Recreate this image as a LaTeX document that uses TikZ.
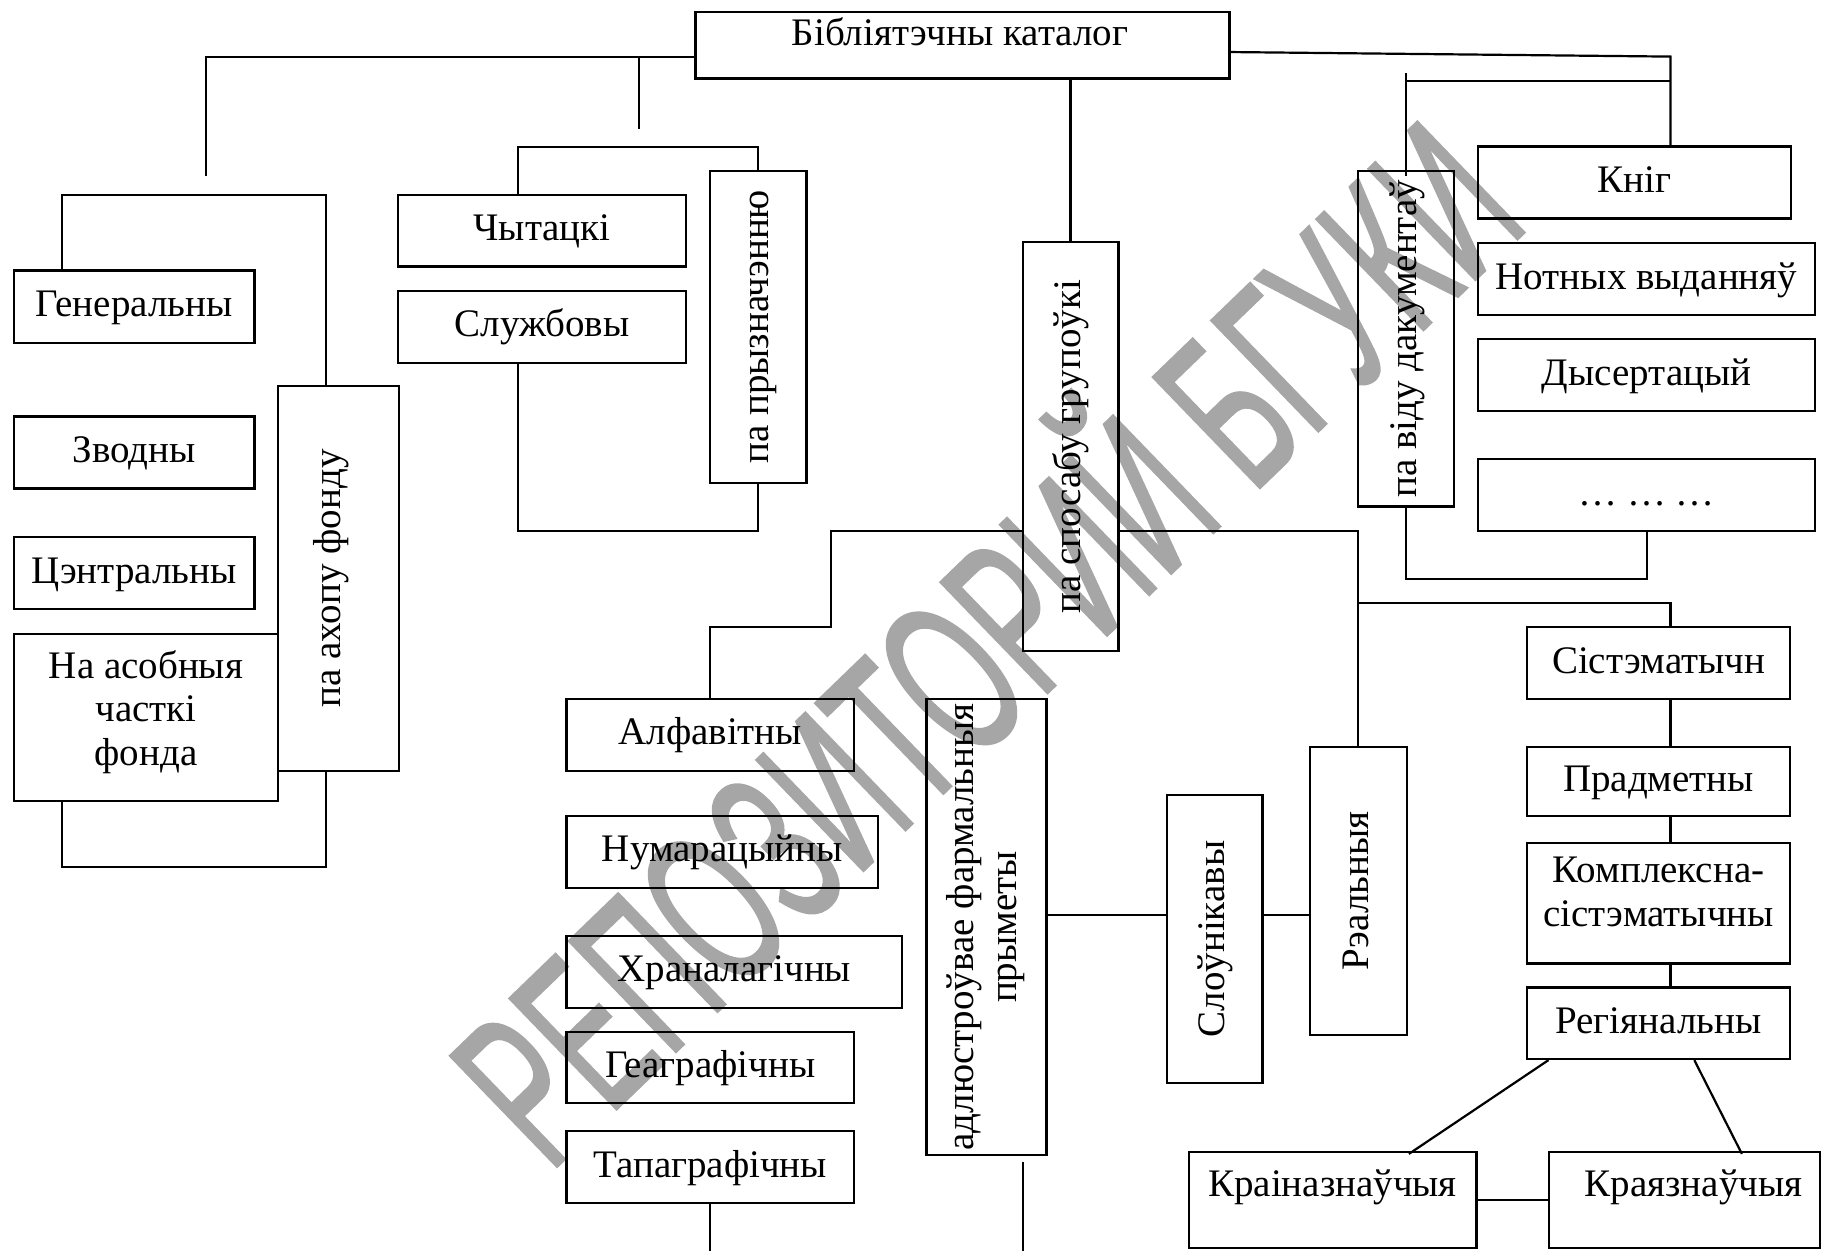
\documentclass[tikz,border=0pt]{standalone}
\usepackage{graphicx}
\usepackage{fontspec}
\setmainfont{Liberation Serif}
\newfontfamily\wmfont[FakeBold=1.3]{Liberation Sans}
\usetikzlibrary{calc}
\definecolor{wm}{RGB}{166,166,166}
\newcommand\vtext[1]{\rotatebox{90}{\raisebox{0pt}[0.6em][0.08em]{#1}}}
\tikzset{
  box/.style 2 args={draw, line width=1.1pt, rectangle, inner sep=0pt,
    minimum width=#1*0.5pt, minimum height=#2*0.5pt,
    font=\fontsize{19.5pt}{21.8pt}\selectfont, align=center},
  lbl/.style={text height=11.7pt, text depth=1.56pt},
  lblup/.style={text height=11.7pt, text depth=15pt},
  txt/.style={font=\fontsize{19.5pt}{21.8pt}\selectfont, align=center, inner sep=0pt},
  conn/.style={line width=1.1pt},
}
\begin{document}
\begin{tikzpicture}[x=0.5pt,y=-0.5pt]
\useasboundingbox (0,0) rectangle (1822,1251);
% watermark
\node[font=\wmfont\fontsize{62pt}{70pt}\selectfont, text height=44.4pt, text depth=0pt, inner sep=0pt,
      rotate=44, yscale=1.8, text=wm] (wmark) at (985,642) {РЕПОЗИТОРИЙ БГУКИ};

% root
\node[box={534}{66.5}] (root) at (962.45,45.25) {};
\node[anchor=base west, txt] (rootlbl) at (791.4,46) {Бібліятэчны каталог};

% left group
\node[box={240.5}{72.2}, lbl] (gen) at (134.25,306.7) {Генеральны};
\node[box={240.5}{72.1}, lbl] (zv) at (134.25,452.55) {Зводны};
\node[box={240.5}{72}, lbl] (cen) at (134.25,573) {Цэнтральны};
\node[box={264}{167}] (asob) at (146,717.5) {};
\node[txt] (asoblbl) at (146,712) {На асобныя\\часткі\\фонда};
\node[box={120.6}{384.7}] (ahop) at (338.3,578.35) {\rotatebox{90}{\raisebox{0pt}[0.6em][\dimexpr0.08em+8pt\relax]{па ахопу фонду}}};

% purpose group
\node[box={288}{71.6}, lbl] (chyt) at (542,230.8) {Чытацкі};
\node[box={288}{71.7}, lbl] (sluzh) at (542,326.85) {Службовы};
\node[box={96.5}{311.7}] (pryzn) at (758.25,326.85) {\vtext{па прызначэнню}};

% grouping
\node[box={95.8}{408.7}] (spos) at (1070.5,446.65) {\vtext{па спосабу групоўкі}};
\node[box={287.5}{71.7}, lbl] (alf) at (710.25,734.85) {Алфавітны};
\node[box={311.5}{71.9}, lbl] (num) at (722.25,851.75) {Нумарацыйны};
\node[box={335.5}{72.2}, lbl] (hran) at (734.25,971.7) {Храналагічны};
\node[box={287.5}{71.4}, lbl] (geog) at (710.25,1067.5) {Геаграфічны};
\node[box={287.5}{72}, lbl] (tap) at (710.25,1167) {Тапаграфічны};
\node[box={120.1}{456}] (adl) at (986.45,927) {\rotatebox{90}{\begin{tabular}{@{}c@{}}адлюстроўвае фармальныя\\прыметы\end{tabular}}};
\node[box={95.8}{288}] (sloun) at (1214.6,939) {\vtext{Слоўнікавы}};
\node[box={96.6}{288}] (real) at (1358.3,891) {\vtext{Рэальныя}};
\node[box={263}{72}, lbl] (sist) at (1658.5,663) {Сістэматычн};
\node[box={263}{68.8}, lbl] (pradm) at (1658.5,781.4) {Прадметны};
\node[box={263}{120.5}] (kompl) at (1658.5,903.25) {};
\node[txt] (kompllbl) at (1658.5,892) {Комплексна-\\сістэматычны};
\node[box={263}{71.5}, lbl] (reg) at (1658.5,1023.25) {Регіянальны};
\node[box={287.7}{96}, lblup] (krain) at (1332.55,1200) {Краіназнаўчыя};
\node[box={271}{96}, lblup] (kraj) at (1684.5,1200) {\hspace*{9pt}Краязнаўчыя};

% document kind
\node[box={96}{335.6}] (vidu) at (1406.3,338.8) {\vtext{па віду дакументаў}};
\node[box={312.7}{72}, lbl] (knig) at (1634.35,182.5) {Кніг};
\node[box={337}{72}, lbl] (notn) at (1646.5,279) {Нотных выданняў};
\node[box={337}{72}, lbl] (dys) at (1646.5,375) {Дысертацый};
\node[box={337}{72}, lbl] (dots) at (1646.5,495) {\dots\ \dots\ \dots};

% helper coordinates
\coordinate (aEnd) at (206,176.5);
\coordinate (bTop) at (638.6,56.6);
\coordinate (bEnd) at (638.6,129.5);
\coordinate (ahL) at (62,195);
\coordinate (ahR) at (326,195);
\coordinate (abL) at (62,867);
\coordinate (abR) at (326,867);
\coordinate (pzL) at (518,146.7);
\coordinate (pzR) at (758.25,146.7);
\coordinate (pbL) at (518,531);
\coordinate (pbR) at (758.25,531);
\coordinate (rR) at (1670.5,56.6);
\coordinate (vTop) at (1406.3,73.3);
\coordinate (vH) at (1406.3,80.7);
\coordinate (vB) at (1646.6,579);
\coordinate (sL1) at (831,531);
\coordinate (sL2) at (710.25,626.7);
\coordinate (sR) at (1358.3,603);
\coordinate (hA) at (1100,915);
\coordinate (bot) at (0,1251);

% connectors
\draw[conn] ([yshift=-5.7pt]root.west) -| (aEnd);
\draw[conn] (bTop) -- (bEnd);
\draw[conn] (gen.north -| ahL) -- (ahL) -- (ahR) -- (ahop.north -| ahR);
\draw[conn] (asob.south -| abL) -- (abL) -- (abR) -- (ahop.south -| abR);
\draw[conn] (chyt.north -| pzL) -- (pzL) -- (pzR) -- (pryzn.north);
\draw[conn] (sluzh.south -| pbL) -- (pbL) -- (pbR) -- (pryzn.south);
\draw[conn] (root.south -| spos.north) -- (spos.north);
\draw[conn] ([yshift=-3.4pt]root.east) -- (rR) -- (knig.north -| rR);
\draw[conn] (vTop) -- ([yshift=-3pt]vidu.north);
\draw[conn] (vH) -- (vH -| rR);
\draw[conn] (vidu.south) |- (vB) -- (vB |- dots.south);
\draw[conn] (sL1 -| spos.west) -- (sL1) |- (sL2) -- (alf.north);
\draw[conn] (sL1 -| spos.east) -| (real.north);
\draw[conn] (sR) -| (sist.north -| rR);
\draw[conn] (sist.south -| rR) -- (pradm.north -| rR);
\draw[conn] (pradm.south -| rR) -- (kompl.north -| rR);
\draw[conn] (kompl.south -| rR) -- (reg.north -| rR);
\draw[conn] ([xshift=11.3pt]reg.south west) -- ([xshift=-34.3pt,yshift=-1.5pt]krain.north east);
\draw[conn] ([xshift=84.2pt]reg.south west) -- ([xshift=97pt,yshift=-1.5pt]kraj.north west);
\draw[conn] (krain.east) -- (kraj.west);
\draw[conn] (hA -| adl.east) -- (hA -| sloun.west);
\draw[conn] (hA -| sloun.east) -- (hA -| real.west);
\draw[conn] (tap.south) -- (tap.south |- bot);
\draw[conn] ([xshift=18.2pt,yshift=-3pt]adl.south) -- ([xshift=18.2pt]adl.south |- bot);
\end{tikzpicture}
\end{document}
